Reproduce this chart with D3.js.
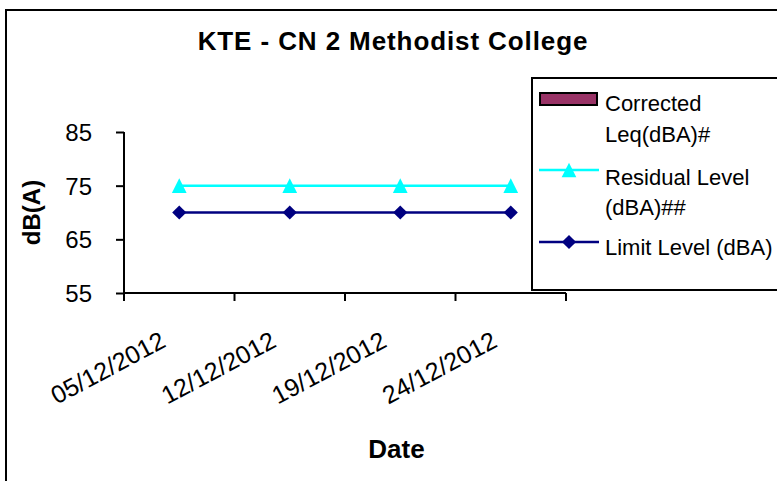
<!DOCTYPE html>
<html>
<head>
<meta charset="utf-8">
<script src="https://cdn.jsdelivr.net/npm/d3@7"></script>
<style>
  body { margin: 0; background: #fff; }
  svg { display: block; font-family: "Liberation Sans", Arial, sans-serif; }
</style>
</head>
<body>
<svg id="chart" width="777" height="481"></svg>
<script>
// chart data
const dates = ["05/12/2012", "12/12/2012", "19/12/2012", "24/12/2012"];
const correctedLeq = [null, null, null, null];   // no values measured
const residualLevel = [75, 75, 75, 75];
const limitLevel = [70, 70, 70, 70];
const yTicks = [55, 65, 75, 85];

const svg = d3.select("#chart");

// outer chart border (runs off the right and bottom edges)
svg.append("rect")
    .attr("x", 6).attr("y", 10)
    .attr("width", 820).attr("height", 520)
    .attr("fill", "#fff")
    .attr("stroke", "#000")
    .attr("stroke-width", 2);

const plot = { left: 124, right: 566, top: 132, bottom: 293 };

const x = d3.scaleBand()
    .domain(dates)
    .range([plot.left, plot.right]);

const y = d3.scaleLinear()
    .domain([55, 85])
    .range([plot.bottom, plot.top]);

// title
svg.append("text")
    .attr("x", 393).attr("y", 50)
    .attr("text-anchor", "middle")
    .attr("font-size", 26)
    .attr("font-weight", "bold")
    .attr("letter-spacing", 0.9)
    .text("KTE - CN 2 Methodist College");

// y axis
const yAxis = svg.append("g")
    .attr("transform", `translate(${plot.left},0)`)
    .call(d3.axisLeft(y).tickValues(yTicks).tickSize(8).tickPadding(24));
yAxis.select(".domain").attr("stroke", "#000").attr("stroke-width", 2)
    .attr("d", `M0,${plot.top}V${plot.bottom}`);
yAxis.selectAll(".tick line").attr("stroke", "#000").attr("stroke-width", 2);
yAxis.selectAll(".tick text")
    .attr("font-size", 24)
    .attr("dy", "0.36em")
    .attr("font-family", "'Liberation Sans', Arial, sans-serif")
    .attr("fill", "#000");

// x axis: ticks between categories, like Excel
const xAxisG = svg.append("g").attr("transform", `translate(0,${plot.bottom})`);
xAxisG.append("line")
    .attr("x1", plot.left).attr("x2", plot.right)
    .attr("stroke", "#000").attr("stroke-width", 2);
const edges = dates.map(d => x(d)).concat([x(dates[dates.length - 1]) + x.bandwidth()]);
xAxisG.selectAll(".edge")
    .data(edges)
    .join("line")
    .attr("class", "edge")
    .attr("x1", d => d).attr("x2", d => d)
    .attr("y1", 0).attr("y2", 8)
    .attr("stroke", "#000").attr("stroke-width", 2);
xAxisG.selectAll(".xlab")
    .data(dates)
    .join("text")
    .attr("class", "xlab")
    .attr("text-anchor", "end")
    .attr("font-size", 25)
    .attr("transform", d => `translate(${x(d) + x.bandwidth() / 2 - 12},${53}) rotate(-28)`)
    .text(d => d);

// axis titles
svg.append("text")
    .attr("transform", `translate(39.5,${(plot.top + plot.bottom) / 2}) rotate(-90)`)
    .attr("text-anchor", "middle")
    .attr("font-size", 24)
    .attr("font-weight", "bold")
    .text("dB(A)");

svg.append("text")
    .attr("x", 396.5).attr("y", 458)
    .attr("text-anchor", "middle")
    .attr("font-size", 26)
    .attr("font-weight", "bold")
    .text("Date");

// series lines
const cx = d => x(d) + x.bandwidth() / 2;
const lineGen = vals => d3.line()
    .defined((d, i) => vals[i] != null)
    .x(d => cx(d))
    .y((d, i) => y(vals[i]))(dates);

svg.append("path")
    .attr("d", lineGen(residualLevel))
    .attr("fill", "none").attr("stroke", "#00FFFF").attr("stroke-width", 2.5);
svg.append("path")
    .attr("d", lineGen(limitLevel))
    .attr("fill", "none").attr("stroke", "#000080").attr("stroke-width", 2.5);

// Excel style markers: triangle about 15 wide/tall, diamond 14 across
const triType = {
    draw(ctx, size) {
        const h = Math.sqrt(size) * 0.75;
        ctx.moveTo(0, -h);
        ctx.lineTo(h, h);
        ctx.lineTo(-h, h);
        ctx.closePath();
    }
};
const tri = d3.symbol().type(triType).size(96);
const dia = d3.symbol().type(d3.symbolSquare).size(100);

svg.selectAll(".tri")
    .data(dates)
    .join("path")
    .attr("class", "tri")
    .attr("transform", (d, i) => `translate(${cx(d)},${y(residualLevel[i])})`)
    .attr("d", tri)
    .attr("fill", "#00FFFF");

svg.selectAll(".dia")
    .data(dates)
    .join("path")
    .attr("class", "dia")
    .attr("transform", (d, i) => `translate(${cx(d)},${y(limitLevel[i])}) rotate(45)`)
    .attr("d", dia)
    .attr("fill", "#000080");

// legend
const lg = svg.append("g").attr("transform", "translate(532,78)");
lg.append("rect")
    .attr("width", 300).attr("height", 212)
    .attr("fill", "#fff")
    .attr("stroke", "#000").attr("stroke-width", 2);

lg.append("rect")
    .attr("x", 8).attr("y", 15)
    .attr("width", 57).attr("height", 12)
    .attr("fill", "#993366").attr("stroke", "#000").attr("stroke-width", 2);

lg.append("line")
    .attr("x1", 7).attr("x2", 67).attr("y1", 92).attr("y2", 92)
    .attr("stroke", "#00FFFF").attr("stroke-width", 2.5);
lg.append("path")
    .attr("transform", "translate(37,92)")
    .attr("d", tri).attr("fill", "#00FFFF");

lg.append("line")
    .attr("x1", 7).attr("x2", 67).attr("y1", 164).attr("y2", 164)
    .attr("stroke", "#000080").attr("stroke-width", 2.5);
lg.append("path")
    .attr("transform", "translate(37,164) rotate(45)")
    .attr("d", dia).attr("fill", "#000080");

const legendText = [
    ["Corrected", 33], ["Leq(dBA)#", 63.5],
    ["Residual Level", 107], ["(dBA)##", 137],
    ["Limit Level (dBA)", 177]
];
lg.selectAll(".ltxt")
    .data(legendText)
    .join("text")
    .attr("class", "ltxt")
    .attr("x", 73)
    .attr("y", d => d[1])
    .attr("font-size", 22)
    .text(d => d[0]);
</script>
</body>
</html>
